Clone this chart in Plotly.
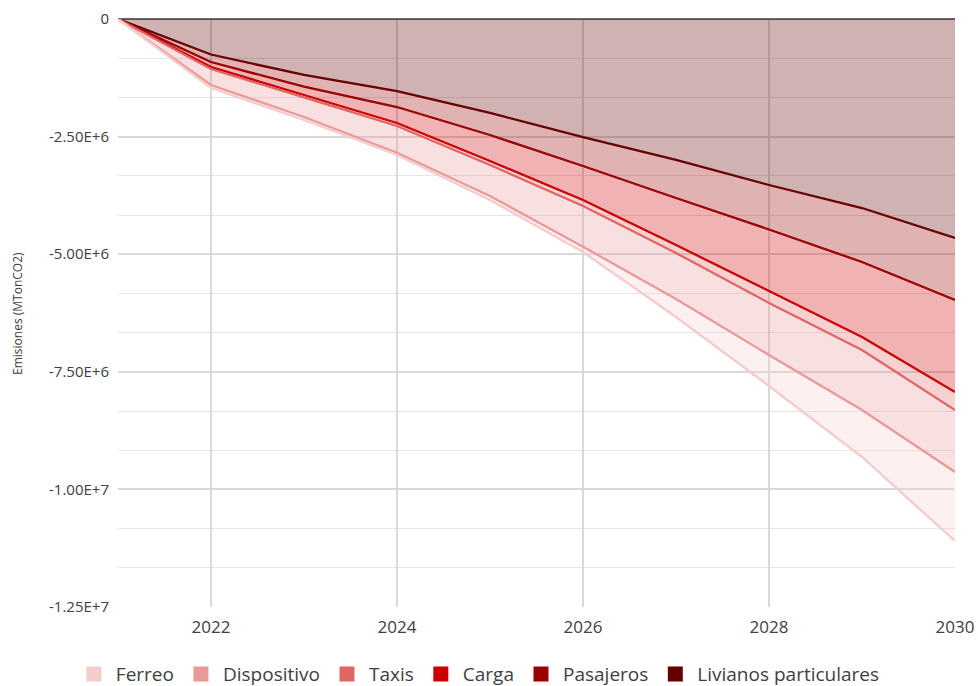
import plotly.graph_objects as go

years = [2021, 2022, 2023, 2024, 2025, 2026, 2027, 2028, 2029, 2030]

# Emission reductions per sector (tCO2) (stacked, negative)
livianos = [0, -0.755e6, -1.190e6, -1.531e6, -1.998e6, -2.509e6, -2.997e6, -3.529e6, -4.018e6, -4.656e6]
pasajeros = [0, -0.159e6, -0.249e6, -0.340e6, -0.468e6, -0.616e6, -0.808e6, -0.946e6, -1.148e6, -1.318e6]
carga = [0, -0.106e6, -0.177e6, -0.340e6, -0.553e6, -0.723e6, -0.999e6, -1.307e6, -1.594e6, -1.955e6]
taxis = [0, -0.043e6, -0.049e6, -0.064e6, -0.085e6, -0.127e6, -0.170e6, -0.255e6, -0.277e6, -0.383e6]
dispositivo = [0, -0.340e6, -0.418e6, -0.567e6, -0.659e6, -0.866e6, -0.978e6, -1.106e6, -1.275e6, -1.318e6]
ferreo = [0, -0.064e6, -0.064e6, -0.049e6, -0.085e6, -0.112e6, -0.383e6, -0.659e6, -0.999e6, -1.467e6]

series_names = ["Livianos particulares", "Pasajeros", "Carga", "Taxis", "Dispositivo", "Ferreo"]
series_values = [livianos, pasajeros, carga, taxis, dispositivo, ferreo]
series_colors = ["#660000", "#990000", "#cc0000", "#e06666", "#ea9999", "#f4cccc"]

y_tickvals = [0, -2.5e6, -5e6, -7.5e6, -1e7, -1.25e7]
y_ticktext = ["0", "-2.50E+6", "-5.00E+6", "-7.50E+6", "-1.00E+7", "-1.25E+7"]
x_tickvals = [2022, 2024, 2026, 2028, 2030]
x_ticktext = ["2022", "2024", "2026", "2028", "2030"]


def rgba(hexc, a):
    h = hexc.lstrip("#")
    r, g, b = int(h[0:2], 16), int(h[2:4], 16), int(h[4:6], 16)
    return f"rgba({r},{g},{b},{a})"


fig = go.Figure()
for name, vals, col in zip(series_names, series_values, series_colors):
    fig.add_trace(go.Scatter(
        x=years, y=vals, name=name, mode="lines",
        stackgroup="one", showlegend=False,
        line=dict(color=col, width=2.3),
        fillcolor=rgba(col, 0.3),
    ))

# legend entries as solid squares, Ferreo first
for name, col in reversed(list(zip(series_names, series_colors))):
    fig.add_trace(go.Scatter(
        x=[None], y=[None], name=name, mode="markers",
        marker=dict(symbol="square", size=15, color=col),
        showlegend=True, hoverinfo="skip",
    ))

FONT = "Open Sans"
fig.update_layout(
    width=978, height=686,
    margin=dict(l=118, r=23, t=19, b=79, autoexpand=False),
    paper_bgcolor="white", plot_bgcolor="white",
    font=dict(family=FONT, color="#404040"),
    showlegend=True,
    legend=dict(orientation="h", traceorder="normal",
                x=0.4305, xanchor="center", y=-0.114, yanchor="middle",
                font=dict(size=19, color="#404040"),
                bgcolor="rgba(0,0,0,0)",
                itemwidth=34, itemclick=False, tracegroupgap=0),
    xaxis=dict(range=[2021, 2030], tickmode="array", tickvals=x_tickvals, ticktext=x_ticktext,
               showgrid=True, gridcolor="#d9d9d9", gridwidth=1.5, automargin=False,
               zeroline=False, showline=False, ticks="", ticklabelstandoff=8,
               tickfont=dict(size=17, color="#404040")),
    yaxis=dict(range=[-1.25e7, 0], tickmode="array", tickvals=y_tickvals, ticktext=y_ticktext,
               showgrid=True, gridcolor="#d9d9d9", gridwidth=1.5, automargin=False,
               minor=dict(tickmode="linear", tick0=0, dtick=2.5e6 / 3, showgrid=True,
                          gridcolor="#e6e6e6", gridwidth=1.2, ticks=""),
               zeroline=True, zerolinecolor="#6a6a6a", zerolinewidth=1.5,
               showline=False, ticks="", ticklabelstandoff=8,
               tickfont=dict(size=15, color="#404040")),
)

fig.add_annotation(text="Emisiones (MTonCO2)", xref="paper", yref="paper",
                   x=-0.1207, y=0.5, xanchor="center", yanchor="middle",
                   textangle=-90, showarrow=False,
                   font=dict(size=12, color="#404040", family=FONT))

# remove the default 8px page margin so the 978x686 figure fills the window exactly
fig.write_html("out.html", config={"displayModeBar": False},
               post_script="document.body.style.margin='0';document.body.style.overflow='hidden';")
